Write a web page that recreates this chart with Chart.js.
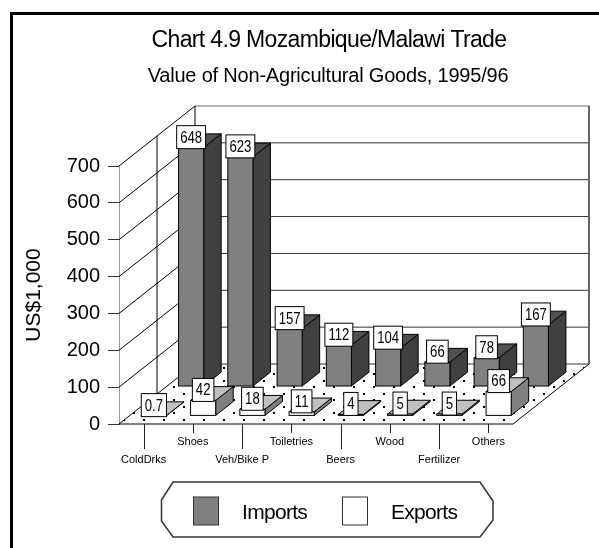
<!DOCTYPE html>
<html>
<head>
<meta charset="utf-8">
<title>Chart 4.9 Mozambique/Malawi Trade</title>
<script src="https://cdn.jsdelivr.net/npm/chart.js@4.4.1/dist/chart.umd.min.js"></script>
<style>
  html, body { margin: 0; padding: 0; background: #fff; }
  canvas { display: block; }
</style>
</head>
<body>
<canvas id="tradeChart" width="599" height="548"></canvas>
<script>
// values (US$1,000)
const categories = ['ColdDrks', 'Shoes', 'Veh/Bike P', 'Toiletries', 'Beers', 'Wood', 'Fertilizer', 'Others'];
const importValues = [648, 623, 157, 112, 104, 66, 78, 167];
const exportValues = [0.7, 42, 18, 11, 4, 5, 5, 66];
const seriesNames = ['Imports', 'Exports'];
const yMax = 700;
const yStep = 100;

const titleText = 'Chart 4.9 Mozambique/Malawi Trade';
const subtitleText = 'Value of Non-Agricultural Goods, 1995/96';

const FONT = "'Liberation Sans', Arial, Helvetica, sans-serif";
Chart.defaults.font.family = FONT;
Chart.defaults.color = '#000';

// fake 3d: how far the back wall sits from the front edge
const DX = 76, DY = -60;
// each row: where its front face sits (0 = front, 1 = back wall) and how deep the box is
const rowStyle = [
  { d: 0.625, t: 0.23, front: '#808080', top: '#505050', side: '#404040' },
  { d: 0.135, t: 0.23, front: '#ffffff', top: '#c0c0c0', side: '#808080' }
];

function dots() {
  const c = document.createElement('canvas');
  c.width = 20; c.height = 13;
  const g = c.getContext('2d');
  g.fillStyle = '#fff';
  g.fillRect(0, 0, 20, 13);
  g.fillStyle = '#000';
  g.fillRect(3, 3, 2, 2);
  g.fillRect(13, 9, 2, 2);
  return c;
}

function line(ctx, x1, y1, x2, y2) {
  ctx.beginPath();
  ctx.moveTo(x1, y1);
  ctx.lineTo(x2, y2);
  ctx.stroke();
}

const box3d = {
  id: 'box3d',
  beforeDraw(chart) {
    const ctx = chart.ctx;
    ctx.save();
    ctx.fillStyle = '#fff';
    ctx.fillRect(0, 0, chart.width, chart.height);
    ctx.restore();
  },
  beforeDatasetsDraw(chart) {
    const { ctx, chartArea: a, scales: { x, y } } = chart;
    ctx.save();
    ctx.lineWidth = 1;

    // floor
    ctx.beginPath();
    ctx.moveTo(a.left, a.bottom);
    ctx.lineTo(a.right, a.bottom);
    ctx.lineTo(a.right + DX, a.bottom + DY);
    ctx.lineTo(a.left + DX, a.bottom + DY);
    ctx.closePath();
    ctx.fillStyle = ctx.createPattern(dots(), 'repeat');
    ctx.fill();

    // side wall diagonals + back wall grid
    for (let v = 0; v <= yMax; v += yStep) {
      const py = y.getPixelForValue(v);
      ctx.strokeStyle = '#000';
      line(ctx, a.left, py, a.left + DX, py + DY);
      ctx.strokeStyle = v === yMax ? '#666' : '#333';
      line(ctx, a.left + DX, py + DY, a.right + DX, py + DY);
    }
    const top = y.getPixelForValue(yMax), bot = y.getPixelForValue(0);
    ctx.strokeStyle = '#000';
    line(ctx, a.left + DX, top + DY, a.left + DX, bot + DY);
    line(ctx, a.left + DX / 2, top + DY / 2, a.left + DX / 2, bot + DY / 2);
    ctx.strokeStyle = '#666';
    ctx.lineWidth = 2;
    line(ctx, a.right + DX, top + DY, a.right + DX, bot + DY);

    // floor edges
    ctx.lineWidth = 1;
    ctx.strokeStyle = '#000';
    line(ctx, a.left, bot, a.right, bot);
    line(ctx, a.right, bot, a.right + DX, bot + DY);

    // leader ticks under the floor
    ctx.strokeStyle = '#222';
    categories.forEach((c, i) => {
      const px = Math.round(x.getPixelForValue(i)) + 0.5;
      line(ctx, px, bot, px, bot + (i % 2 === 0 ? 25 : 9));
    });
    ctx.restore();
  },
  afterDatasetsDraw(chart) {
    const ctx = chart.ctx;
    ctx.save();
    ctx.lineWidth = 1;
    ctx.strokeStyle = '#000';
    chart.data.datasets.forEach((ds, di) => {
      const meta = chart.getDatasetMeta(di);
      const r = rowStyle[di];
      const ox = r.d * DX, oy = r.d * DY, sx = r.t * DX, sy = r.t * DY;
      meta.data.forEach((el, i) => {
        const p = el.getProps(['x', 'y', 'base', 'width'], true);
        const L = p.x - p.width / 2 + ox, R = p.x + p.width / 2 + ox;
        const T = p.y + oy, B = p.base + oy;

        // side
        ctx.beginPath();
        ctx.moveTo(R, T); ctx.lineTo(R + sx, T + sy); ctx.lineTo(R + sx, B + sy); ctx.lineTo(R, B);
        ctx.closePath();
        ctx.fillStyle = r.side; ctx.fill(); ctx.stroke();
        // top
        ctx.beginPath();
        ctx.moveTo(L, T); ctx.lineTo(R, T); ctx.lineTo(R + sx, T + sy); ctx.lineTo(L + sx, T + sy);
        ctx.closePath();
        ctx.fillStyle = r.top; ctx.fill(); ctx.stroke();
        // front
        ctx.fillStyle = r.front;
        ctx.fillRect(L, T, R - L, B - T);
        ctx.strokeRect(L, T, R - L, B - T);

        // value box
        const txt = String(ds.data[i]);
        ctx.font = '16px ' + FONT;
        const tw = ctx.measureText(txt).width * 0.82;
        const bw = tw + 7, bh = 23;
        const cx = (L + R) / 2;
        const bx = cx - bw / 2, by = T + 1 - bh;
        ctx.fillStyle = '#fff';
        ctx.fillRect(bx, by, bw, bh);
        ctx.strokeRect(bx, by, bw, bh);
        ctx.save();
        ctx.translate(cx, by + bh / 2 + 1);
        ctx.scale(0.82, 1);
        ctx.fillStyle = '#000';
        ctx.textAlign = 'center';
        ctx.textBaseline = 'middle';
        ctx.fillText(txt, 0, 0);
        ctx.restore();
      });
    });
    ctx.restore();
  },
  afterDraw(chart) {
    const ctx = chart.ctx;
    ctx.save();
    // frame (only top and left are inside the picture)
    ctx.fillStyle = '#000';
    ctx.fillRect(10, 12, chart.width - 10, 3);
    ctx.fillRect(10, 12, 3, chart.height - 12);

    // titles
    ctx.textAlign = 'center';
    ctx.textBaseline = 'alphabetic';
    ctx.font = '23px ' + FONT;
    ctx.letterSpacing = '-0.65px';
    ctx.fillText(titleText, 329, 47);
    ctx.font = '20px ' + FONT;
    ctx.letterSpacing = '-0.2px';
    ctx.fillText(subtitleText, 328, 82);

    // legend
    ctx.strokeStyle = '#333';
    ctx.lineWidth = 1.5;
    ctx.beginPath();
    ctx.moveTo(173, 482); ctx.lineTo(480, 482); ctx.lineTo(493, 501); ctx.lineTo(493, 520);
    ctx.lineTo(480, 537); ctx.lineTo(173, 537); ctx.lineTo(161.5, 521); ctx.lineTo(161.5, 500);
    ctx.closePath();
    ctx.stroke();
    const items = [{ sx: 193.5, tx: 242 }, { sx: 342.5, tx: 391 }];
    ctx.font = '21px ' + FONT;
    ctx.letterSpacing = '-0.7px';
    ctx.textAlign = 'left';
    ctx.lineWidth = 1;
    chart.data.datasets.forEach((ds, di) => {
      const it = items[di];
      ctx.fillStyle = rowStyle[di].front;
      ctx.fillRect(it.sx, 497, 25, 28);
      ctx.strokeRect(it.sx, 497, 25, 28);
      ctx.fillStyle = '#000';
      ctx.fillText(ds.label, it.tx, 518.5);
    });
    ctx.restore();
  }
};

new Chart(document.getElementById('tradeChart'), {
  type: 'bar',
  data: {
    labels: categories,
    datasets: [
      { label: seriesNames[0], data: importValues, backgroundColor: 'rgba(0,0,0,0)', borderWidth: 0 },
      { label: seriesNames[1], data: exportValues, backgroundColor: 'rgba(0,0,0,0)', borderWidth: 0 }
    ]
  },
  options: {
    responsive: false,
    animation: false,
    events: [],
    devicePixelRatio: 1,
    layout: { padding: { top: 166, left: 0, right: 86, bottom: 74 } },
    datasets: { bar: { grouped: false, categoryPercentage: 1, barPercentage: 0.51 } },
    plugins: {
      legend: { display: false },
      tooltip: { enabled: false },
      title: { display: false }
    },
    scales: {
      x: {
        grid: { display: false, drawTicks: false },
        border: { display: false },
        ticks: {
          autoSkip: false,
          maxRotation: 0,
          minRotation: 0,
          padding: 9,
          font: { size: 11, lineHeight: 1.64 },
          callback(value, index) {
            const lbl = this.getLabelForValue(value);
            return index % 2 === 0 ? ['', lbl] : lbl;
          }
        },
        afterFit(scale) { scale.height = 50; }
      },
      y: {
        min: 0,
        max: yMax,
        ticks: { stepSize: yStep, padding: 8, font: { size: 20 } },
        grid: { drawOnChartArea: false, tickLength: 11, color: '#333' },
        border: { color: '#999' },
        title: { display: true, text: 'US$1,000', font: { size: 21 }, padding: { top: 22, bottom: 0 } },
        afterFit(scale) { scale.width = 119; }
      }
    }
  },
  plugins: [box3d]
});
</script>
</body>
</html>
